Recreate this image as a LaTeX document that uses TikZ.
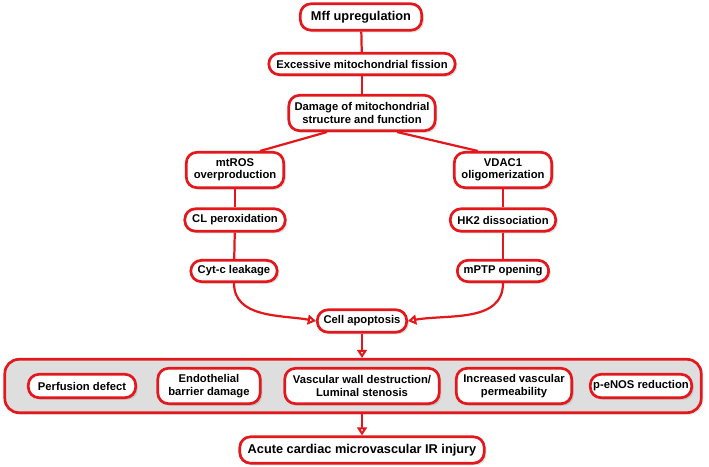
\documentclass[tikz,border=0pt]{standalone}
\usepackage{fontspec}
\setmainfont{Liberation Sans}
\usetikzlibrary{arrows.meta,shadows}

\definecolor{path_red}{RGB}{228,24,28}
\colorlet{path_fill}{white}
\colorlet{path_panel}{black!13}

\begin{document}
\begin{tikzpicture}[x=0.03cm, y=-0.03cm,
    step_box/.style={rectangle, rounded corners=9pt, draw=path_red,
      line width=2.3pt, fill=path_fill, text=black, align=center,
      inner sep=0pt, font=\fontsize{9.6}{10.6}\selectfont\bfseries,
      drop shadow={opacity=0.25, shadow xshift=1.8pt, shadow yshift=-1.8pt}},
    big_box/.style={step_box, font=\fontsize{10.9}{12}\selectfont\bfseries},
    link/.style={draw=path_red, line width=1.9pt},
    flow/.style={link, -{Triangle[open, fill=white, length=7pt, width=8.5pt]}}]
    \useasboundingbox (0,0) rectangle (709,466);

    % main chain
    \node[big_box, minimum width=3.64cm, minimum height=0.79cm]
      (mff) at (361,17) {Mff upregulation};
    \node[step_box, minimum width=5.59cm, minimum height=0.64cm]
      (fis) at (362,64) {Excessive mitochondrial fission};
    \node[step_box, minimum width=4.39cm, minimum height=1.06cm]
      (dmg) at (362,113) {Damage of mitochondrial\\structure and function};

    % left branch
    \node[step_box, minimum width=2.92cm, minimum height=1.06cm]
      (ros) at (235,170) {mtROS\\overproduction};
    \node[step_box, minimum width=3.01cm, minimum height=0.67cm]
      (cl) at (235,220) {CL peroxidation};
    \node[step_box, minimum width=2.59cm, minimum height=0.64cm]
      (cyt) at (234,271) {Cyt-c leakage};

    % right branch
    \node[step_box, minimum width=2.92cm, minimum height=1.06cm]
      (vdac) at (503,170) {VDAC1\\oligomerization};
    \node[step_box, minimum width=3.16cm, minimum height=0.67cm]
      (hk) at (503,220) {HK2 dissociation};
    \node[step_box, minimum width=2.74cm, minimum height=0.64cm]
      (mptp) at (503,271) {mPTP opening};

    \node[step_box, minimum width=2.68cm, minimum height=0.67cm]
      (apo) at (362,321) {Cell apoptosis};

    % outcome panel
    \node[rectangle, rounded corners=12pt, draw=path_red, line width=2.3pt,
      fill=path_panel, minimum width=20.89cm, minimum height=1.60cm,
      drop shadow={opacity=0.2, shadow xshift=1.8pt, shadow yshift=-1.8pt}]
      (panel) at (353,386) {};
    \node[step_box, minimum width=3.22cm, minimum height=0.70cm]
      (perf) at (82,386) {Perfusion defect};
    \node[step_box, minimum width=3.07cm, minimum height=1.06cm]
      (endo) at (209,386) {Endothelial\\barrier damage};
    \node[step_box, minimum width=4.63cm, minimum height=1.06cm]
      (wall) at (362,386) {Vascular wall destruction/\\Luminal stenosis};
    \node[step_box, minimum width=3.46cm, minimum height=1.06cm]
      (perm) at (514,386) {Increased vascular\\permeability};
    \node[step_box, minimum width=3.04cm, minimum height=0.70cm]
      (enos) at (641,386) {p-eNOS reduction};

    \node[big_box, minimum width=7.33cm, minimum height=0.79cm]
      (acute) at (362,450) {Acute cardiac microvascular IR injury};

    % connectors
    \draw[link] (mff) -- (fis);
    \draw[link] (fis) -- (dmg);
    \draw[link] ([xshift=-1.05cm]dmg.south) -- ([xshift=0.75cm]ros.north);
    \draw[link] ([xshift=1.05cm]dmg.south) -- ([xshift=-0.75cm]vdac.north);
    \draw[link] (ros) -- (cl);
    \draw[link] (cl) -- (cyt);
    \draw[link] (vdac) -- (hk);
    \draw[link] (hk) -- (mptp);
    \draw[flow] (cyt.south) to[out=-90, in=170] (apo.west);
    \draw[flow] (mptp.south) to[out=-90, in=10] (apo.east);
    \draw[flow] (apo.south) -- (panel.north -| apo.south);
    \draw[flow] (panel.south -| acute.north) -- (acute.north);
  \end{tikzpicture}
\end{document}
